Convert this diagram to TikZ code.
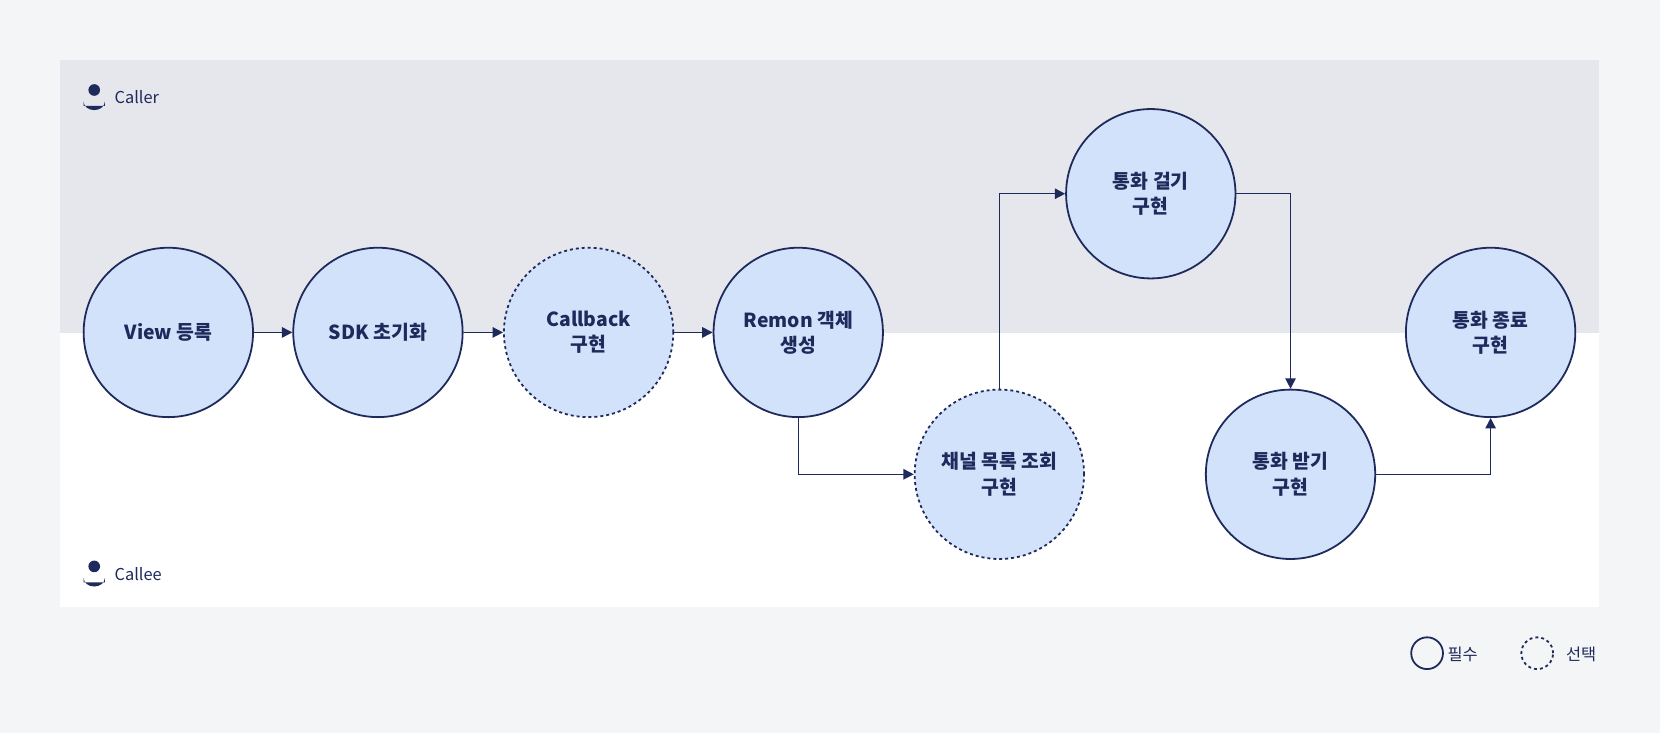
\documentclass[tikz,border=0pt]{standalone}
\usepackage{fontspec}
\setmainfont{Noto Sans CJK KR}
\usetikzlibrary{arrows.meta}
\definecolor{bgc}{HTML}{F4F5F7}
\definecolor{band}{HTML}{E5E7EC}
\definecolor{navy}{HTML}{1F2A5C}
\definecolor{fillc}{HTML}{D2E2FB}
\tikzset{
  stepc/.style={circle,draw=navy,fill=fillc,line width=1.2pt,minimum size=160*0.025cm,inner sep=0pt,align=center,font=\fontsize{13}{17}\selectfont\bfseries,text=navy},
  opt/.style={dash pattern=on 2pt off 2pt},
  conn/.style={draw=navy,line width=1pt,-{Triangle[length=7pt,width=7pt]}},
  lab/.style={font=\fontsize{11}{13}\selectfont,text=navy,anchor=west,inner sep=0pt},
}
\newcommand{\personicon}[1]{%
  \fill[navy] ($(#1)+(0,-4)$) circle (5.5);
  \fill[navy] ($(#1)+(-10,11)$) -- ($(#1)+(10,11)$) -- ($(#1)+(10,7)$) arc (0:180:10 and 8) -- cycle;}
\usetikzlibrary{calc}
\begin{document}
\begin{tikzpicture}[x=0.025cm,y=-0.025cm]
\useasboundingbox (0,0) rectangle (1568,692);
\fill[bgc] (0,0) rectangle (1568,692);
\fill[band] (57,57) rectangle (1510,315);
\fill[white] (57,315) rectangle (1510,573);
\coordinate (ic1) at (89,89);
\coordinate (ic2) at (89,539);
\personicon{ic1}
\personicon{ic2}
\node[lab] (caller) at (108,92) {Caller};
\node[lab] (callee) at (108,542) {Callee};
\node[stepc] (a) at (159,314) {View 등록};
\node[stepc] (b) at (357,314) {SDK 초기화};
\node[stepc,opt] (c) at (556,314) {Callback\\구현};
\node[stepc] (d) at (754,314) {Remon 객체\\생성};
\node[stepc,opt] (e) at (944,448) {채널 목록 조회\\구현};
\node[stepc] (f) at (1087,183) {통화 걸기\\구현};
\node[stepc] (g) at (1219,448) {통화 받기\\구현};
\node[stepc] (h) at (1408,314) {통화 종료\\구현};
\draw[conn] (a) -- (b);
\draw[conn] (b) -- (c);
\draw[conn] (c) -- (d);
\draw[conn] (d.south) |- (e.west);
\draw[conn] (e.north) |- (f.west);
\draw[conn] (f.east) -| (g.north);
\draw[conn] (g.east) -| (h.south);
\node[circle,draw=navy,line width=1.2pt,minimum size=30*0.025cm,inner sep=0pt] (l1) at (1348,617) {};
\node[lab] (l1t) at (1367,618) {필수};
\node[circle,draw=navy,line width=1.2pt,opt,minimum size=30*0.025cm,inner sep=0pt] (l2) at (1452,617) {};
\node[lab] (l2t) at (1479,618) {선택};
\end{tikzpicture}
\end{document}
